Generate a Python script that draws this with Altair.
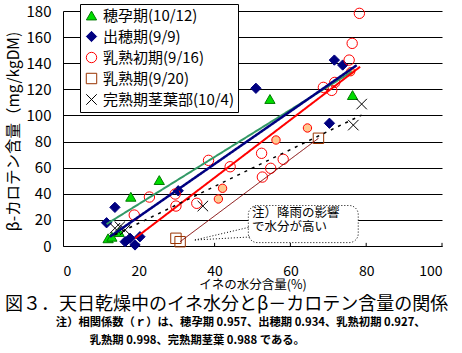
import altair as alt
import pandas as pd

FONT = "Noto Sans CJK JP"

series_names = ["穂孕期(10/12)", "出穂期(9/9)", "乳熟初期(9/16)", "乳熟期(9/20)", "完熟期茎葉部(10/4)"]

# 穂孕期
s1_x = [11.9, 12.9, 14.8, 17.9, 25.4, 54.6, 76.4]
s1_y = [5.9, 7.1, 10.7, 37.7, 50.5, 112.6, 115.6]
# 出穂期
s2_x = [11.5, 13.7, 16.4, 17.7, 19.0, 20.3, 30.4, 50.9, 71.6, 73.8, 70.3]
s2_y = [17.8, 29.6, 3.3, 5.9, 0.8, 7.1, 42.3, 120.8, 142.4, 138.6, 94.0]
# 乳熟初期
s3_x = [18.8, 22.8, 29.6, 29.8, 35.3, 38.4, 44.1, 52.4, 52.6, 54.8, 58.1, 68.7, 71.7, 70.9, 75.5, 76.3, 78.2]
s3_y = [23.7, 37.5, 39.8, 30.6, 32.7, 65.6, 60.7, 71.0, 52.8, 59.5, 66.4, 121.5, 125.3, 119.2, 142.4, 155.2, 178.2]
# 乳熟期
s4_x = [29.8, 30.9, 67.4]
s4_y = [5.9, 3.3, 82.5]
# 完熟期茎葉部
s5_x = [13.7, 15.0, 16.4, 36.9, 76.6, 78.8]
s5_y = [13.6, 14.8, 12.3, 30.6, 92.6, 108.7]
# filled (salmon) circles
f_x = [41.0, 42.1, 56.2, 64.5, 75.9]
f_y = [36.0, 44.2, 81.2, 90.4, 133.5]

# fitted lines (start / end in data units)
line_x1 = [11.5, 12.4, 19.0, 13.7, 30.9]
line_y1 = [16.8, 7.1, 5.9, 8.6, 3.3]
line_x2 = [76.2, 77.5, 78.4, 78.8, 67.4]
line_y2 = [133.5, 138.5, 137.3, 100.3, 82.5]

x_ticks = [0, 20, 40, 60, 80, 100]
y_ticks = [0, 20, 40, 60, 80, 100, 120, 140, 160, 180]

note_lines = ["注）降雨の影響", "で水分が高い"]
note_x = [49.9, 49.9]
note_y = [25.5, 14.6]
box = dict(x=48.9, x2=77.9, y=2.6, y2=31.0)
tail_x = [34.8, 34.8]
tail_y = [4.6, 4.6]
tail_x2 = [49.3, 49.3]
tail_y2 = [14.5, 6.9]

rows = []
for name, xs_, ys_ in zip(series_names, [s1_x, s2_x, s3_x, s4_x, s5_x], [s1_y, s2_y, s3_y, s4_y, s5_y]):
    for a, b in zip(xs_, ys_):
        rows.append({"x": a, "y": b, "series": name})
pts = pd.DataFrame(rows)

xs = alt.Scale(domain=[0, 100], nice=False)
ys = alt.Scale(domain=[0, 180], nice=False)

xaxis = alt.Axis(values=x_ticks, grid=False, tickSize=0, labelPadding=18, labelFontSize=14,
                 labelColor="black", domainColor="black", labelOverlap=False,
                 title="イネの水分含量(%)", titleFontSize=12.5, titleFontWeight="normal",
                 titleColor="black", titleY=32, titleBaseline="top")
yaxis = alt.Axis(values=y_ticks, grid=True, gridColor="black", gridOpacity=1, tickSize=0,
                 labelPadding=12, labelFontSize=15, labelColor="black", domainColor="black",
                 labelOverlap=False,
                 title="β-カロテン含量（mg/kgDM)", titleFontSize=15.5, titleFontWeight="normal",
                 titleColor="black", titleX=-42, titleY=120, titleBaseline="bottom")


def X(f="x"):
    return alt.X(f + ":Q", scale=xs, axis=xaxis)


def Y(f="y"):
    return alt.Y(f + ":Q", scale=ys, axis=yaxis)


shapes = ["triangle-up", "diamond", "circle", "square", "M-1,-1L1,1M-1,1L1,-1"]
strokes = ["#007A00", "#000080", "#FF0000", "#993300", "#000000"]
fills = ["#00DD00", "#000080", "transparent", "transparent", "transparent"]
sizes = [105, 110, 70, 55, 80]

legend = alt.Legend(orient="none", legendX=17, legendY=-7, title=None, fillColor="white",
                    strokeColor="black", padding=4, rowPadding=5, labelFontSize=15,
                    labelFont=FONT, labelOffset=4, labelLimit=0, symbolStrokeWidth=1,
                    labelColor="black")

tick_df = pd.DataFrame({"x": x_ticks[1:], "y": [0] * 5, "y2": [2.4] * 5})
ticks = alt.Chart(tick_df).mark_rule(color="black", strokeWidth=1).encode(
    x=X(), y=Y(), y2="y2:Q")

box_layer = alt.Chart(pd.DataFrame([box])).mark_rect(
    fill="white", stroke="black", strokeDash=[1, 2], strokeWidth=1, cornerRadius=9
).encode(x=X(), x2="x2:Q", y=Y(), y2="y2:Q")

tail_layer = alt.Chart(pd.DataFrame({"x": tail_x, "y": tail_y, "x2": tail_x2, "y2": tail_y2})).mark_rule(
    color="black", strokeDash=[1, 2], strokeWidth=1
).encode(x=X(), y=Y(), x2="x2:Q", y2="y2:Q")

note_layer = alt.Chart(pd.DataFrame({"x": note_x, "y": note_y, "t": note_lines})).mark_text(
    align="left", baseline="middle", fontSize=12.5, font=FONT, color="black"
).encode(x=X(), y=Y(), text="t:N")

points = alt.Chart(pts).mark_point(opacity=1, strokeWidth=1).encode(
    x=X(),
    y=Y(),
    shape=alt.Shape("series:N", sort=series_names, scale=alt.Scale(domain=series_names, range=shapes), legend=legend),
    stroke=alt.Stroke("series:N", sort=series_names, scale=alt.Scale(domain=series_names, range=strokes), legend=legend),
    fill=alt.Fill("series:N", sort=series_names, scale=alt.Scale(domain=series_names, range=fills), legend=legend),
    size=alt.Size("series:N", sort=series_names, scale=alt.Scale(domain=series_names, range=sizes), legend=legend),
)

filled_pts = alt.Chart(pd.DataFrame({"x": f_x, "y": f_y})).mark_point(
    shape="circle", filled=True, fill="#FFC890", stroke="#FF0000", strokeWidth=1, size=70, opacity=1
).encode(x=X(), y=Y())

line_colors = ["#339966", "#000080", "#FF0000", "#000000", "#800000"]
line_widths = [2, 2.5, 2, 1.5, 1]
line_dash = [[1, 0], [1, 0], [1, 0], [3, 5], [1, 0]]
line_layers = []
for i in range(5):
    ldf = pd.DataFrame({"x": [line_x1[i], line_x2[i]], "y": [line_y1[i], line_y2[i]]})
    line_layers.append(
        alt.Chart(ldf).mark_line(color=line_colors[i], strokeWidth=line_widths[i],
                                 strokeDash=line_dash[i]).encode(x=X(), y=Y())
    )

ZW = "\u200b"
title = alt.TitleParams(
    text="図３．天日乾燥中のイネ水分とβ－カロテン含量の関係",
    subtitle=[ZW + "\u3000\u3000\u3000\u3000\u2002注）相関係数（ｒ）は、穂孕期 0.957、出穂期 0.934、乳熟初期 0.927、",
              ZW + "\u3000\u3000\u3000\u3000\u3000\u3000\u3000\u2002乳熟期 0.998、完熟期茎葉 0.988 である。"],
    orient="bottom", anchor="start", frame="group", align="left", dx=-58, offset=5,
    fontSize=18, font=FONT, fontWeight="normal", color="black",
    subtitleFont=FONT, subtitleFontSize=11.3, subtitleFontWeight="bold", subtitleColor="black",
    subtitleLineHeight=18, subtitlePadding=3,
)

chart = alt.layer(ticks, box_layer, tail_layer, note_layer, points, filled_pts, *line_layers).properties(
    width=379, height=235, title=title,
    autosize=alt.AutoSizeParams(type="none"),
    padding={"left": 63, "top": 11, "right": 20, "bottom": 107},
).configure(font=FONT).configure_view(stroke=None)

chart.save("out.html", embed_options={"renderer": "svg", "actions": False})
